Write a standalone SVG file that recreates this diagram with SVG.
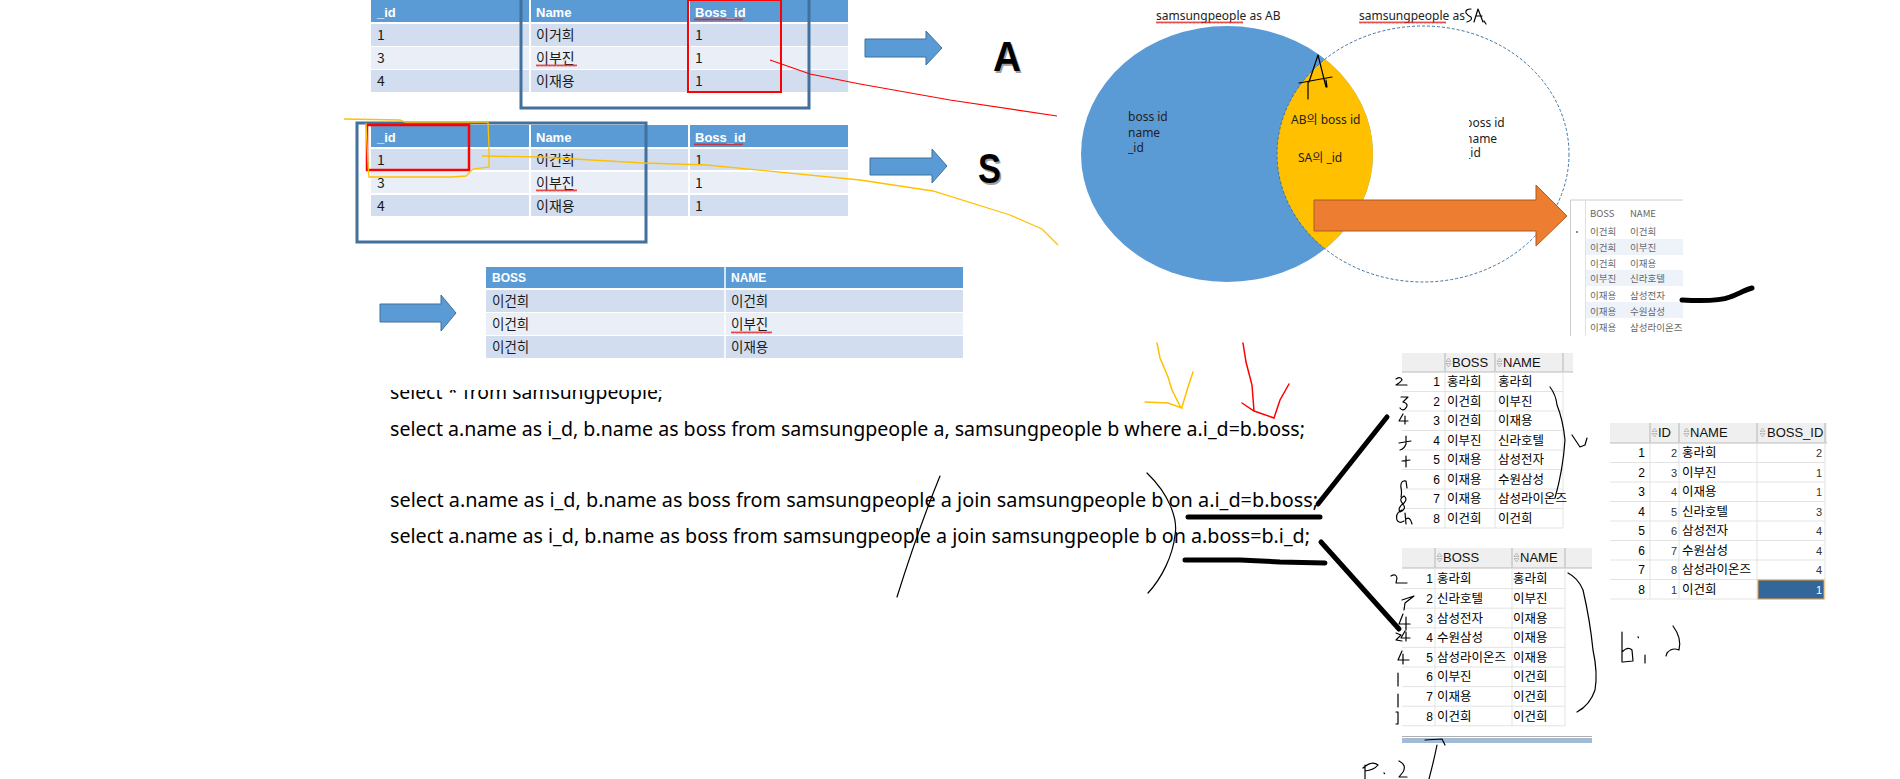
<svg xmlns="http://www.w3.org/2000/svg" width="1900" height="779" viewBox="0 0 1900 779">
<style>
.hdr{font:bold 13px "Liberation Sans","Noto Sans CJK KR",sans-serif;fill:#fff}
.cell{font:14px "Noto Sans CJK KR",sans-serif;fill:#1a1a1a}
.rhdr{font:bold 12px "Liberation Sans","Noto Sans CJK KR",sans-serif;fill:#fff}
.rcell{font:13.5px "Noto Sans CJK KR",sans-serif;fill:#1a1a1a}
.venn{font:12px "Noto Sans","Noto Sans CJK KR",sans-serif;fill:#222}
.sql{font:20.5px "Noto Sans","Noto Sans CJK KR",sans-serif;fill:#000}
.gh{font:13px "Liberation Sans","Noto Sans CJK KR",sans-serif;fill:#111}
.gt{font:12.5px "Noto Sans CJK KR",sans-serif;fill:#000}
.gn{font:12px "Liberation Sans",sans-serif;fill:#000}
.gs{font:11px "Liberation Sans",sans-serif;fill:#333}
.mini{font:9.5px "Noto Sans CJK KR",sans-serif;fill:#666}
.hand{fill:none;stroke:#000;stroke-width:1.2;stroke-linecap:round;stroke-linejoin:round}
.thick{fill:none;stroke:#000;stroke-width:5;stroke-linecap:round;stroke-linejoin:round}
.barrow{fill:#5B9BD5;stroke:#41719C;stroke-width:1}
.big{font:bold 42px "Liberation Sans",sans-serif}
.grid{stroke:#E3E3E3;stroke-width:1}
.hsep{stroke:#BBBBBB;stroke-width:1}
</style>
<defs>
<pattern id="wavy" width="4" height="3" patternUnits="userSpaceOnUse"><path d="M0 2.5 L1 0.5 L2 2.5 L3 0.5 L4 2.5" fill="none" stroke="#E02020" stroke-width="0.8"/></pattern>
<g id="sort"><path d="M0 3.5 L2.5 0 L5 3.5 Z M0 5.5 L2.5 9 L5 5.5 Z" fill="#E8E8E8" stroke="#A0A0A0" stroke-width="0.6"/></g>
<clipPath id="vennclip"><rect x="1070" y="0" width="520" height="284"/></clipPath>
<clipPath id="leftell"><ellipse cx="1227" cy="154" rx="146" ry="128"/></clipPath>
<clipPath id="rtext"><rect x="1469" y="100" width="80" height="70"/></clipPath>
<clipPath id="sql1"><rect x="380" y="390" width="400" height="20"/></clipPath>
<clipPath id="miniclip"><rect x="1569" y="199" width="114" height="138"/></clipPath>
</defs>
<rect width="1900" height="779" fill="#fff"/>

<g id="table-A">
<rect x="371" y="0" width="477" height="22" fill="#5B9BD5"/>
<rect x="371" y="24" width="477" height="22" fill="#D2DEEF"/>
<rect x="371" y="47" width="477" height="22" fill="#EAEFF7"/>
<rect x="371" y="70" width="477" height="22" fill="#D2DEEF"/>
<line x1="530" y1="0" x2="530" y2="92" stroke="#fff" stroke-width="2"/>
<line x1="689" y1="0" x2="689" y2="92" stroke="#fff" stroke-width="2"/>
<text class="hdr" x="377" y="17">_id</text>
<text class="hdr" x="536" y="17">Name</text>
<text class="hdr" x="695" y="17">Boss_id</text>
<rect transform="translate(694,18)" width="49" height="3" fill="url(#wavy)"/>
<text class="cell" x="377" y="40">1</text><text class="cell" x="536" y="40">이거희</text><text class="cell" x="695" y="40">1</text>
<text class="cell" x="377" y="63" fill="#555">3</text><text class="cell" x="536" y="63">이부진</text><text class="cell" x="695" y="63">1</text>
<rect transform="translate(536,64)" width="41" height="3" fill="url(#wavy)"/>
<text class="cell" x="377" y="86">4</text><text class="cell" x="536" y="86">이재용</text><text class="cell" x="695" y="86">1</text>
<rect x="521" y="-5" width="288" height="113" fill="none" stroke="#41719C" stroke-width="3"/>
<rect x="688" y="0" width="93" height="92" fill="none" stroke="#FF0000" stroke-width="2"/>
</g>

<g id="table-S">
<rect x="371" y="125" width="477" height="22" fill="#5B9BD5"/>
<rect x="371" y="149" width="477" height="21" fill="#D2DEEF"/>
<rect x="371" y="172" width="477" height="21" fill="#EAEFF7"/>
<rect x="371" y="195" width="477" height="21" fill="#D2DEEF"/>
<line x1="530" y1="125" x2="530" y2="216" stroke="#fff" stroke-width="2"/>
<line x1="689" y1="125" x2="689" y2="216" stroke="#fff" stroke-width="2"/>
<text class="hdr" x="377" y="142">_id</text>
<text class="hdr" x="536" y="142">Name</text>
<text class="hdr" x="695" y="142">Boss_id</text>
<rect transform="translate(694,143)" width="49" height="3" fill="url(#wavy)"/>
<text class="cell" x="377" y="165">1</text><text class="cell" x="536" y="165">이건희</text><text class="cell" x="695" y="165">1</text>
<text class="cell" x="377" y="188" fill="#555">3</text><text class="cell" x="536" y="188">이부진</text><text class="cell" x="695" y="188">1</text>
<rect transform="translate(536,189)" width="41" height="3" fill="url(#wavy)"/>
<text class="cell" x="377" y="211">4</text><text class="cell" x="536" y="211">이재용</text><text class="cell" x="695" y="211">1</text>
<rect x="357" y="123" width="289" height="119" fill="none" stroke="#41719C" stroke-width="3"/>
<rect x="367" y="125" width="102" height="45" fill="none" stroke="#FF0000" stroke-width="2.5"/>
</g>

<g id="table-result">
<rect x="486" y="267" width="477" height="21" fill="#5B9BD5"/>
<rect x="486" y="290" width="477" height="22" fill="#D2DEEF"/>
<rect x="486" y="313" width="477" height="22" fill="#EAEFF7"/>
<rect x="486" y="336" width="477" height="22" fill="#D2DEEF"/>
<line x1="725" y1="267" x2="725" y2="358" stroke="#fff" stroke-width="1.5"/>
<text class="rhdr" x="492" y="282">BOSS</text><text class="rhdr" x="731" y="282">NAME</text>
<text class="rcell" x="492" y="306">이건희</text><text class="rcell" x="731" y="306">이건희</text>
<text class="rcell" x="492" y="329">이건희</text><text class="rcell" x="731" y="329">이부진</text>
<rect transform="translate(731,331)" width="41" height="3" fill="url(#wavy)"/>
<text class="rcell" x="492" y="352">이건히</text><text class="rcell" x="731" y="352">이재용</text>
</g>

<g id="arrows-blue">
<path class="barrow" d="M865 39 L926 39 L926 31 L942 48 L926 65 L926 57 L865 57 Z"/>
<path class="barrow" d="M870 158 L932 158 L932 149 L947 166 L932 183 L932 175 L870 175 Z"/>
<path class="barrow" d="M380 304 L441 304 L441 295 L456 313 L441 331 L441 322 L380 322 Z"/>
</g>

<g id="label-A"><text class="big" x="994.5" y="72.5" fill="#A0A0A0" textLength="28" lengthAdjust="spacingAndGlyphs">A</text><text class="big" x="993" y="71" fill="#000" textLength="28" lengthAdjust="spacingAndGlyphs">A</text></g>
<g id="label-S"><text class="big" x="979.5" y="184.5" fill="#A0A0A0" textLength="23" lengthAdjust="spacingAndGlyphs">S</text><text class="big" x="978" y="183" fill="#000" textLength="23" lengthAdjust="spacingAndGlyphs">S</text></g>

<g id="venn">
<g clip-path="url(#vennclip)">
<ellipse cx="1227" cy="154" rx="146" ry="128" fill="#5B9BD5"/>
<ellipse cx="1423" cy="154" rx="146" ry="128" fill="#FFC000" clip-path="url(#leftell)"/>
<ellipse cx="1423" cy="154" rx="146" ry="128" fill="none" stroke="#41719C" stroke-width="1" stroke-dasharray="3 2"/>
</g>
<text class="venn" x="1156" y="20">samsungpeople as AB</text>
<rect transform="translate(1156,21)" width="87" height="3" fill="url(#wavy)"/>
<text class="venn" x="1359" y="20">samsungpeople as</text>
<rect transform="translate(1359,21)" width="87" height="3" fill="url(#wavy)"/>
<path class="hand" d="M1471 9 Q1465 9 1466 13 Q1468 16 1471 17 Q1473 20 1467 22 M1474 22 L1478 9 L1483 22 M1476 16 L1482 16 M1484 21 L1486 24"/>
<text class="venn" x="1128" y="121">boss id</text>
<text class="venn" x="1128" y="137">name</text>
<text class="venn" x="1128" y="152">_id</text>
<text class="venn" x="1291" y="124">AB의 boss id</text>
<text class="venn" x="1298" y="162">SA의 _id</text>
<g clip-path="url(#rtext)">
<text class="venn" x="1465" y="127">boss id</text>
<text class="venn" x="1465" y="143">name</text>
<text class="venn" x="1465" y="157">_id</text>
</g>
<path class="hand" d="M1309 82 L1318 55 L1326 87 M1299 83 L1332 77 M1308 82 L1308 99 M1326 80 L1327 87"/>
</g>

<g id="arrow-orange">
<path d="M1314 200 L1536 200 L1536 185 L1567 216 L1536 246 L1536 231 L1314 231 Z" fill="#ED7D31" stroke="#AE5A21" stroke-width="1"/>
</g>

<g id="mini-table" clip-path="url(#miniclip)">
<rect x="1570" y="200" width="120" height="136" fill="#fff"/>
<rect x="1585" y="239" width="100" height="16" fill="#EEF3FA"/>
<rect x="1585" y="270" width="100" height="16" fill="#EEF3FA"/>
<rect x="1585" y="302" width="100" height="16" fill="#EEF3FA"/>
<line x1="1570" y1="200" x2="1690" y2="200" stroke="#CCCCCC"/>
<line x1="1570.5" y1="200" x2="1570.5" y2="336" stroke="#CCCCCC"/>
<line x1="1585.5" y1="200" x2="1585.5" y2="336" stroke="#E0E0E0"/>
<text class="mini" x="1590" y="217" fill="#444">BOSS</text><text class="mini" x="1630" y="217" fill="#444">NAME</text>
<circle cx="1577" cy="232" r="1" fill="#666"/>
<text class="mini" x="1590" y="235">이건희</text><text class="mini" x="1630" y="235">이건희</text>
<text class="mini" x="1590" y="251">이건희</text><text class="mini" x="1630" y="251">이부진</text>
<text class="mini" x="1590" y="267">이건희</text><text class="mini" x="1630" y="267">이재용</text>
<text class="mini" x="1590" y="282">이부진</text><text class="mini" x="1630" y="282">신라호텔</text>
<text class="mini" x="1590" y="299">이재용</text><text class="mini" x="1630" y="299">삼성전자</text>
<text class="mini" x="1590" y="315">이재용</text><text class="mini" x="1630" y="315">수원삼성</text>
<text class="mini" x="1590" y="331">이재용</text><text class="mini" x="1630" y="331">삼성라이온즈</text>
</g>

<g id="sql">
<text class="sql" x="390" y="399" clip-path="url(#sql1)" textLength="273" lengthAdjust="spacingAndGlyphs">select * from samsungpeople;</text>
<text class="sql" x="390" y="436" textLength="915" lengthAdjust="spacingAndGlyphs">select a.name as i_d, b.name as boss from samsungpeople a, samsungpeople b where a.i_d=b.boss;</text>
<text class="sql" x="390" y="507" textLength="928" lengthAdjust="spacingAndGlyphs">select a.name as i_d, b.name as boss from samsungpeople a join samsungpeople b on a.i_d=b.boss;</text>
<text class="sql" x="390" y="543" textLength="920" lengthAdjust="spacingAndGlyphs">select a.name as i_d, b.name as boss from samsungpeople a join samsungpeople b on a.boss=b.i_d;</text>
</g>

<g id="table-B1">
<rect x="1402" y="353" width="171" height="19" fill="#EFEFEF"/>
<line x1="1402" y1="372" x2="1573" y2="372" class="hsep"/>
<line x1="1445" y1="353" x2="1445" y2="528" class="grid"/>
<line x1="1495" y1="353" x2="1495" y2="528" class="grid"/>
<line x1="1563" y1="353" x2="1563" y2="528" class="grid"/>
<line x1="1445" y1="353" x2="1445" y2="372" class="hsep"/>
<line x1="1495" y1="353" x2="1495" y2="372" class="hsep"/>
<line x1="1563" y1="353" x2="1563" y2="372" class="hsep"/>
<g class="grid">
<line x1="1402" y1="391.5" x2="1563" y2="391.5"/><line x1="1402" y1="411" x2="1563" y2="411"/><line x1="1402" y1="430.5" x2="1563" y2="430.5"/><line x1="1402" y1="450" x2="1563" y2="450"/><line x1="1402" y1="469.5" x2="1563" y2="469.5"/><line x1="1402" y1="489" x2="1563" y2="489"/><line x1="1402" y1="508.5" x2="1563" y2="508.5"/><line x1="1402" y1="528" x2="1563" y2="528"/>
</g>
<use href="#sort" x="1446" y="358"/><text class="gh" x="1452" y="367">BOSS</text>
<use href="#sort" x="1497" y="358"/><text class="gh" x="1503" y="367">NAME</text>
<g class="gn" text-anchor="end">
<text x="1440" y="386">1</text><text x="1440" y="405.5">2</text><text x="1440" y="425">3</text><text x="1440" y="444.5">4</text><text x="1440" y="464">5</text><text x="1440" y="483.5">6</text><text x="1440" y="503">7</text><text x="1440" y="522.5">8</text>
</g>
<g class="gt">
<text x="1447" y="386">홍라희</text><text x="1498" y="386">홍라희</text>
<text x="1447" y="405.5">이건희</text><text x="1498" y="405.5">이부진</text>
<text x="1447" y="425">이건희</text><text x="1498" y="425">이재용</text>
<text x="1447" y="444.5">이부진</text><text x="1498" y="444.5">신라호텔</text>
<text x="1447" y="464">이재용</text><text x="1498" y="464">삼성전자</text>
<text x="1447" y="483.5">이재용</text><text x="1498" y="483.5">수원삼성</text>
<text x="1447" y="503">이재용</text><text x="1498" y="503">삼성라이온즈</text>
<text x="1447" y="522.5">이건희</text><text x="1498" y="522.5">이건희</text>
</g>
</g>

<g id="table-B2">
<rect x="1402" y="548" width="190" height="20" fill="#EFEFEF"/>
<line x1="1402" y1="568" x2="1592" y2="568" class="hsep"/>
<line x1="1435" y1="548" x2="1435" y2="726" class="grid"/>
<line x1="1512" y1="548" x2="1512" y2="726" class="grid"/>
<line x1="1565" y1="548" x2="1565" y2="726" class="grid"/>
<line x1="1435" y1="548" x2="1435" y2="568" class="hsep"/>
<line x1="1512" y1="548" x2="1512" y2="568" class="hsep"/>
<line x1="1565" y1="548" x2="1565" y2="568" class="hsep"/>
<g class="grid">
<line x1="1402" y1="588.6" x2="1565" y2="588.6"/><line x1="1402" y1="608.2" x2="1565" y2="608.2"/><line x1="1402" y1="627.8" x2="1565" y2="627.8"/><line x1="1402" y1="647.4" x2="1565" y2="647.4"/><line x1="1402" y1="667" x2="1565" y2="667"/><line x1="1402" y1="686.6" x2="1565" y2="686.6"/><line x1="1402" y1="706.2" x2="1565" y2="706.2"/><line x1="1402" y1="725.8" x2="1565" y2="725.8"/>
</g>
<use href="#sort" x="1437" y="553"/><text class="gh" x="1443" y="562">BOSS</text>
<use href="#sort" x="1514" y="553"/><text class="gh" x="1520" y="562">NAME</text>
<g class="gn" text-anchor="end">
<text x="1433" y="583.3">1</text><text x="1433" y="602.9">2</text><text x="1433" y="622.5">3</text><text x="1433" y="642.1">4</text><text x="1433" y="661.7">5</text><text x="1433" y="681.3">6</text><text x="1433" y="700.9">7</text><text x="1433" y="720.5">8</text>
</g>
<g class="gt">
<text x="1437" y="583.3">홍라희</text><text x="1513" y="583.3">홍라희</text>
<text x="1437" y="602.9">신라호텔</text><text x="1513" y="602.9">이부진</text>
<text x="1437" y="622.5">삼성전자</text><text x="1513" y="622.5">이재용</text>
<text x="1437" y="642.1">수원삼성</text><text x="1513" y="642.1">이재용</text>
<text x="1437" y="661.7">삼성라이온즈</text><text x="1513" y="661.7">이재용</text>
<text x="1437" y="681.3">이부진</text><text x="1513" y="681.3">이건희</text>
<text x="1437" y="700.9">이재용</text><text x="1513" y="700.9">이건희</text>
<text x="1437" y="720.5">이건희</text><text x="1513" y="720.5">이건희</text>
</g>
<line x1="1402" y1="736.5" x2="1592" y2="736.5" stroke="#B0B0B0"/>
<rect x="1402" y="738" width="190" height="5" fill="#A3BBD3"/>
</g>

<g id="table-C">
<rect x="1610" y="423" width="217" height="20" fill="#EFEFEF"/>
<line x1="1610" y1="443" x2="1827" y2="443" class="hsep"/>
<line x1="1650" y1="423" x2="1650" y2="599" class="grid"/>
<line x1="1679" y1="423" x2="1679" y2="599" class="grid"/>
<line x1="1757" y1="423" x2="1757" y2="599" class="grid"/>
<line x1="1825" y1="423" x2="1825" y2="599" class="grid"/>
<line x1="1650" y1="423" x2="1650" y2="443" class="hsep"/>
<line x1="1679" y1="423" x2="1679" y2="443" class="hsep"/>
<line x1="1757" y1="423" x2="1757" y2="443" class="hsep"/>
<line x1="1825" y1="423" x2="1825" y2="443" class="hsep"/>
<g class="grid">
<line x1="1610" y1="462.5" x2="1825" y2="462.5"/><line x1="1610" y1="482" x2="1825" y2="482"/><line x1="1610" y1="501.5" x2="1825" y2="501.5"/><line x1="1610" y1="521" x2="1825" y2="521"/><line x1="1610" y1="540.5" x2="1825" y2="540.5"/><line x1="1610" y1="560" x2="1825" y2="560"/><line x1="1610" y1="579.5" x2="1825" y2="579.5"/><line x1="1610" y1="599" x2="1825" y2="599"/>
</g>
<use href="#sort" x="1652" y="428"/><text class="gh" x="1658" y="437">ID</text>
<use href="#sort" x="1684" y="428"/><text class="gh" x="1690" y="437">NAME</text>
<use href="#sort" x="1760" y="428"/><text class="gh" x="1767" y="437">BOSS_ID</text>
<rect x="1758" y="580" width="66" height="19" fill="#336699" stroke="#F0A030" stroke-width="1"/>
<g class="gn" text-anchor="end">
<text x="1645" y="457.3">1</text><text x="1645" y="476.8">2</text><text x="1645" y="496.3">3</text><text x="1645" y="515.8">4</text><text x="1645" y="535.3">5</text><text x="1645" y="554.8">6</text><text x="1645" y="574.3">7</text><text x="1645" y="593.8">8</text>
</g>
<g class="gs" text-anchor="end">
<text x="1677" y="457.3">2</text><text x="1677" y="476.8">3</text><text x="1677" y="496.3">4</text><text x="1677" y="515.8">5</text><text x="1677" y="535.3">6</text><text x="1677" y="554.8">7</text><text x="1677" y="574.3">8</text><text x="1677" y="593.8">1</text>
<text x="1822" y="457.3">2</text><text x="1822" y="476.8">1</text><text x="1822" y="496.3">1</text><text x="1822" y="515.8">3</text><text x="1822" y="535.3">4</text><text x="1822" y="554.8">4</text><text x="1822" y="574.3">4</text><text x="1822" y="593.8" fill="#fff">1</text>
</g>
<g class="gt">
<text x="1682" y="457.3">홍라희</text><text x="1682" y="476.8">이부진</text><text x="1682" y="496.3">이재용</text><text x="1682" y="515.8">신라호텔</text><text x="1682" y="535.3">삼성전자</text><text x="1682" y="554.8">수원삼성</text><text x="1682" y="574.3">삼성라이온즈</text><text x="1682" y="593.8">이건희</text>
</g>
</g>

<g id="connectors">
<path d="M770 60 L793 68 L810 74 L860 84 L950 100 L1057 116" fill="none" stroke="#FF0000" stroke-width="1.2"/>
<path d="M344 119 L400 120 L405 122 L488 122 L489 147 L489 167 L473 169 L466 176 L452 177 L369 177 L368 165 L366 123" fill="none" stroke="#FFC000" stroke-width="1.3"/>
<path d="M482 156 L540 157 L643 163 L707 165 L860 180 L933 191 L1010 215 L1042 229 L1058 245" fill="none" stroke="#FFC000" stroke-width="1.3"/>
<path d="M1157 343 L1160 358 L1168 377 L1172 390 L1181 408 M1193 372 L1188 387 L1182 407 M1145 402 L1168 403 L1182 408" fill="none" stroke="#FFC000" stroke-width="1.5" stroke-linecap="round"/>
<path d="M1243 343 L1246 362 L1252 385 L1254 411 M1242 403 L1254 411 L1274 418 L1280 400 L1289 384" fill="none" stroke="#FF0000" stroke-width="1.5" stroke-linecap="round"/>
<path class="hand" d="M940 476 Q918 530 897 597"/>
<path class="hand" d="M1147 473 C1170 495 1178 520 1175 535 C1173 555 1162 578 1148 593"/>
<path class="thick" d="M1188 517 L1320 517" stroke-width="4.5"/>
<path class="thick" d="M1185 560 L1240 560 L1280 562 L1325 563"/>
<path class="thick" d="M1318 504 L1387 417"/>
<path class="thick" d="M1321 542 L1399 629"/>
<path class="thick" d="M1682 300 C1700 301 1720 301 1730 297 C1738 294 1745 290 1752 288" stroke-width="3"/>
<path class="hand" d="M1550 387 Q1556 395 1557 405 Q1563 420 1565 440 Q1563 470 1555 498"/>
<path class="hand" d="M1572 435 L1580 447 L1585 445 L1587 438"/>
<path class="hand" d="M1568 573 Q1578 578 1583 590 Q1590 620 1593 650 Q1598 673 1595 690 Q1590 705 1577 712"/>
<path class="hand" d="M1396 379 Q1401 376 1402 380 Q1400 383 1396 385 L1407 385 M1401 397 L1408 397 L1403 402 Q1410 404 1405 409 Q1402 411 1400 408 M1403 414 L1399 421 L1408 421 M1405 416 L1405 424 M1399 443 L1411 441 M1406 436 L1406 444 Q1404 449 1400 450 M1402 461 L1410 460 M1406 456 L1406 467 M1406 481 Q1400 480 1401 488 Q1402 492 1401 497 M1406 481 L1407 488 M1404 496 Q1398 499 1403 504 Q1407 509 1400 512 Q1397 508 1404 503 Q1408 499 1404 496 M1402 510 Q1395 513 1397 520 Q1399 524 1404 521 M1405 513 L1406 524 M1406 519 Q1410 516 1412 524"/>
<path class="hand" d="M1391 576 Q1396 573 1397 578 L1396 583 L1407 583 M1402 600 L1414 596 L1405 603 L1404 610 M1403 614 L1399 624 L1410 624 M1406 617 L1406 630 M1396 633 L1401 635 L1396 640 L1402 641 M1405 631 L1401 638 L1410 638 M1406 632 L1406 641 M1402 651 L1398 660 L1409 660 M1403 654 L1403 664 M1398 673 L1398 686 M1398 694 L1398 707 M1396 712 L1398 712 L1398 724 L1396 724"/>
<path class="hand" d="M1365 765 L1365 779 M1363 768 Q1372 760 1378 765 Q1374 770 1365 771 M1384 773 L1384.5 773.5 M1399 761 Q1407 765 1403 772 L1399 777 L1407 777 M1425 740 L1442 739 L1445 745 M1437 745 Q1434 760 1429 779"/>
<path class="hand" d="M1622 632 L1622 662 M1622 652 Q1628 646 1632 650 L1633 661 L1623 662 M1638 637 L1638.5 637.5 M1645 655 L1645 663 M1673 626 Q1682 638 1679 650 Q1672 647 1667 653 L1666 656"/>
</g>
</svg>
